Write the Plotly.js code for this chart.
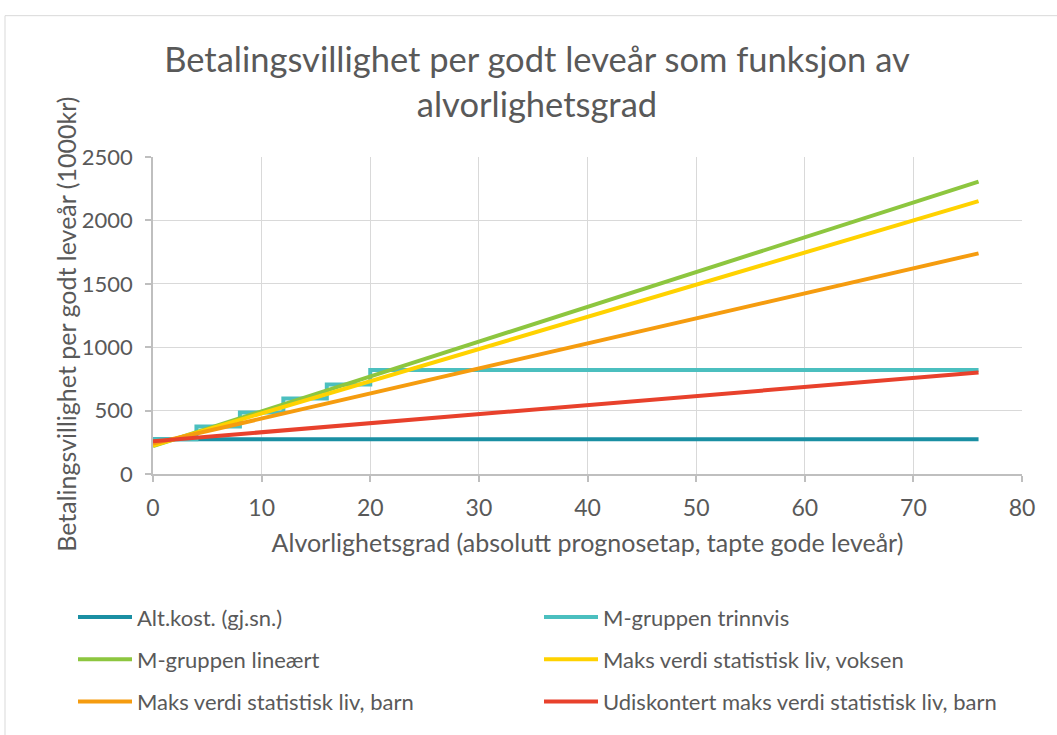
<!DOCTYPE html>
<html>
<head>
<meta charset="utf-8">
<script src="https://cdn.plot.ly/plotly-3.0.1.min.js"></script>
<style>html,body{margin:0;padding:0;background:#fff;}#chart{width:1057px;height:735px;}</style>
</head>
<body>
<div id="chart"></div>
<script>
// ---- data ----
const seriesNames = [
  "Alt.kost. (gj.sn.)",
  "M-gruppen trinnvis",
  "M-gruppen lineært",
  "Maks verdi statistisk liv, voksen",
  "Maks verdi statistisk liv, barn",
  "Udiskontert maks verdi statistisk liv, barn"
];
const xLinear = [0, 76];
const altKost = [275, 275];
const xSteps = [0, 4, 8, 12, 16, 20, 76];
const mTrinnvis = [275, 375, 485, 595, 705, 820, 820];
const mLineaert = [220, 2306];
const maksVoksen = [225, 2152];
const maksBarn = [240, 1740];
const udiskBarn = [258, 800];
const xTicks = [0, 10, 20, 30, 40, 50, 60, 70, 80];
const yTicks = [0, 500, 1000, 1500, 2000, 2500];

const colors = ["#1a8fa3", "#4bbfbf", "#8dc63f", "#ffd200", "#f59c0f", "#e8412c"];
const FONT = "Lato, 'Open Sans', sans-serif";
const TXT = "#595959";

const ys = [altKost, mTrinnvis, mLineaert, maksVoksen, maksBarn, udiskBarn];
const xs = [xLinear, xSteps, xLinear, xLinear, xLinear, xLinear];
const legendIds = ["legend", "legend2", "legend3", "legend4", "legend5", "legend6"];

const traces = ys.map((y, i) => ({
  type: "scatter", mode: "lines",
  x: xs[i], y: y, name: seriesNames[i],
  line: {color: colors[i], width: 4, shape: i === 1 ? "hv" : "linear"},
  legend: legendIds[i], showlegend: true,
  hoverinfo: "x+y+name"
}));

// plot area: left 153, right 1022, top 157, bottom 480
const L = 153, R = 1022, T = 157, B = 480;
const pw = R - L, ph = B - T;
const px2x = p => (p - L) / pw;
const py2y = p => (B - p) / ph;

const legendRowsPx = [626, 669, 712];
const legendColsTextPx = [137, 603];
const itemW = 54;
const layout = {
  width: 1057, height: 735,
  margin: {l: L, r: 1057 - R, t: T, b: 735 - B},
  paper_bgcolor: "#ffffff", plot_bgcolor: "#ffffff",
  showlegend: true,
  font: {family: FONT, color: TXT, size: 23},
  title: {
    text: "Betalingsvillighet per godt leveår som funksjon av<br>alvorlighetsgrad",
    font: {family: FONT, size: 34.5, color: TXT},
    x: 0.508, xref: "container", xanchor: "center",
    y: 1 - 72 / 735, yref: "container", yanchor: "top"
  },
  xaxis: {
    range: [0, 80], tickvals: xTicks, ticktext: xTicks.map(String),
    showgrid: true, gridcolor: "#d9d9d9", gridwidth: 1.4,
    showline: true, linecolor: "#bfbfbf", linewidth: 1.5,
    ticks: "outside", ticklen: 6, tickcolor: "#bfbfbf", tickwidth: 1.5,
    ticklabelstandoff: 7,
    zeroline: false, tickfont: {size: 23, color: TXT},
    title: {text: "Alvorlighetsgrad (absolutt prognosetap, tapte gode leveår)", font: {size: 25, color: TXT}, standoff: 14}
  },
  yaxis: {
    range: [0, 2500], tickvals: yTicks, ticktext: yTicks.map(String),
    showgrid: true, gridcolor: "#d9d9d9", gridwidth: 1.4,
    showline: true, linecolor: "#bfbfbf", linewidth: 1.5,
    ticks: "outside", ticklen: 6, tickcolor: "#bfbfbf", tickwidth: 1.5,
    ticklabelstandoff: 8,
    zeroline: false, tickfont: {size: 22, color: TXT}
  },
  annotations: [{
    text: "Betalingsvillighet per godt leveår (1000kr)",
    xref: "paper", yref: "paper", x: px2x(66), y: py2y(328),
    xanchor: "center", yanchor: "middle", textangle: -90, showarrow: false,
    font: {family: FONT, size: 25, color: TXT}
  }],
  shapes: [{
    type: "rect", xref: "paper", yref: "paper",
    x0: px2x(5), x1: px2x(1070), y0: py2y(750), y1: py2y(13),
    line: {color: "#d9d9d9", width: 1}, fillcolor: "rgba(0,0,0,0)", layer: "below"
  }]
};
legendIds.forEach((id, i) => {
  const row = Math.floor(i / 2), col = i % 2;
  layout[id] = {
    visible: true,
    x: px2x(legendColsTextPx[col] - itemW - 10), xanchor: "left",
    y: py2y(legendRowsPx[row]), yanchor: "middle",
    orientation: "h", itemwidth: itemW,
    bgcolor: "rgba(0,0,0,0)", borderwidth: 0,
    font: {family: FONT, size: 22, color: TXT}
  };
});

Plotly.newPlot("chart", traces, layout, {displayModeBar: false, responsive: false});
</script>
</body>
</html>
